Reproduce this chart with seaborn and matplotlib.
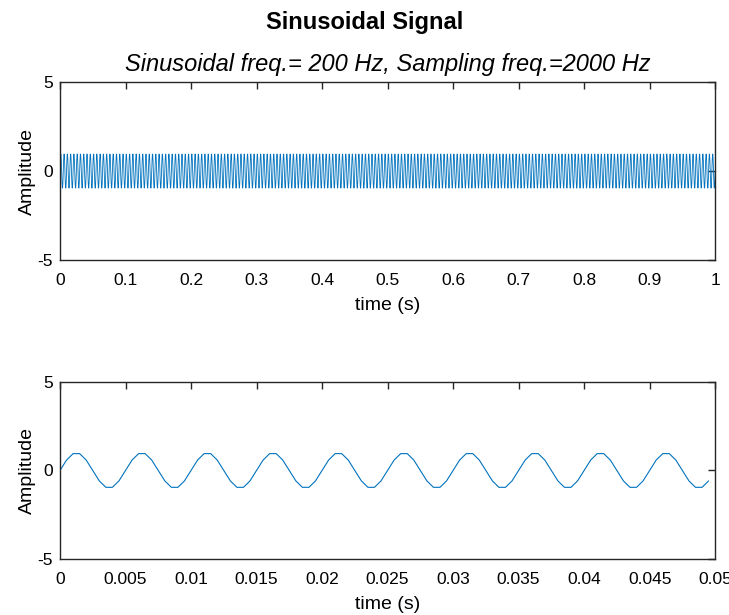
import numpy as np
import pandas as pd
import matplotlib
matplotlib.use('Agg')
import matplotlib.pyplot as plt
import seaborn as sns

# one period of the sampled 200 Hz sine (10 samples per period at 2000 Hz)
period_values = [0.0, 0.588, 0.951, 0.951, 0.588, 0.0, -0.588, -0.951, -0.951, -0.588]
fs = 2000
n_full = 2001      # samples over 0..1 s
n_zoom = 100       # samples over 0..0.0495 s

top_xticks = [0, 0.1, 0.2, 0.3, 0.4, 0.5, 0.6, 0.7, 0.8, 0.9, 1]
top_xlabels = ['0', '0.1', '0.2', '0.3', '0.4', '0.5', '0.6', '0.7', '0.8', '0.9', '1']
bot_xticks = [0, 0.005, 0.01, 0.015, 0.02, 0.025, 0.03, 0.035, 0.04, 0.045, 0.05]
bot_xlabels = ['0', '0.005', '0.01', '0.015', '0.02', '0.025', '0.03', '0.035', '0.04', '0.045', '0.05']
yticks = [-5, 0, 5]
ylabels = ['-5', '0', '5']

sig = np.resize(np.array(period_values), n_full)
df_full = pd.DataFrame({'t': np.arange(n_full) / fs, 'amp': sig})
df_zoom = df_full.iloc[:n_zoom]

sns.set_style('white')
plt.rcParams['font.family'] = ['Liberation Sans', 'DejaVu Sans']
plt.rcParams['text.color'] = 'black'
plt.rcParams['axes.labelcolor'] = 'black'

fig = plt.figure(figsize=(7.29, 6.15), dpi=100)
ax1 = fig.add_axes([0.0823, 0.577, 0.8987, 0.2897])
ax2 = fig.add_axes([0.0823, 0.091, 0.8987, 0.288])

line_col = '#0072BD'
sns.lineplot(data=df_full, x='t', y='amp', ax=ax1, color=line_col, linewidth=0.6)
sns.lineplot(data=df_zoom, x='t', y='amp', ax=ax2, color=line_col, linewidth=0.8)

for ax, xt, xl, xmax in [(ax1, top_xticks, top_xlabels, 1), (ax2, bot_xticks, bot_xlabels, 0.05)]:
    ax.set_xlim(0, xmax)
    ax.set_ylim(-5, 5)
    ax.set_xticks(xt)
    ax.set_xticklabels(xl)
    ax.set_yticks(yticks)
    ax.set_yticklabels(ylabels)
    ax.tick_params(direction='in', top=True, right=True, length=5, width=1,
                   labelsize=12.5, colors='#262626', labelcolor='black')
    ax.tick_params(axis='x', pad=9)
    ax.tick_params(axis='y', pad=5)
    ax.set_xlabel('time (s)', fontsize=14, labelpad=7, color='black')
    ax.set_ylabel('Amplitude', fontsize=14, labelpad=1, color='black')
    for s in ax.spines.values():
        s.set_visible(True)
        s.set_color('#262626')
        s.set_linewidth(1)

ax1.set_title('Sinusoidal freq.= 200 Hz, Sampling freq.=2000 Hz',
              fontsize=17, style='italic', pad=8, color='black')
fig.suptitle('Sinusoidal Signal', fontsize=17, fontweight='bold', y=0.982, color='black')

fig.savefig('out.png', dpi=100)
